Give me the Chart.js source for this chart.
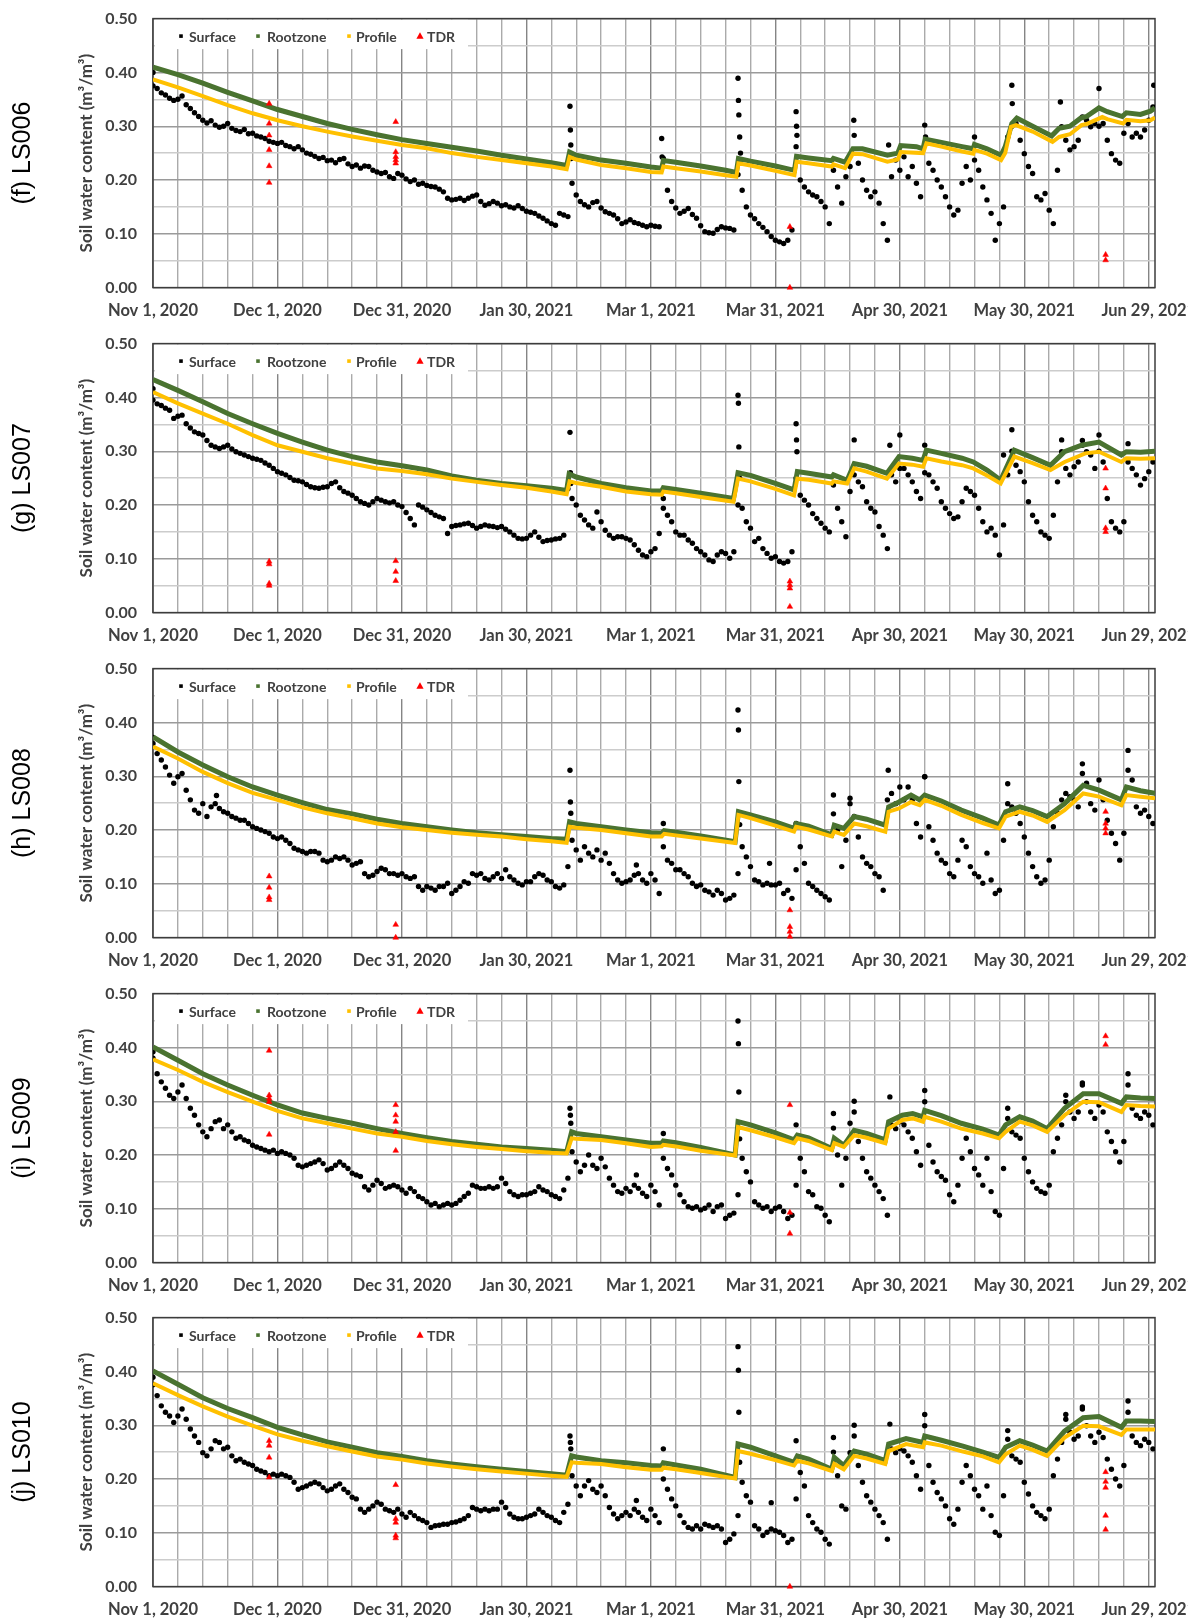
<!DOCTYPE html>
<html>
<head>
<meta charset="utf-8">
<script src="https://cdn.jsdelivr.net/npm/chart.js@4.4.1/dist/chart.umd.min.js"></script>
<style>
html,body{margin:0;padding:0;background:#ffffff;}
body{width:1196px;height:1622px;overflow:hidden;position:relative;}
.panel{position:absolute;left:0;width:1188px;height:325px;overflow:hidden;}
canvas{display:block;}
</style>
</head>
<body>
<div class="panel" style="top:0px"><canvas id="c0" width="1240" height="325"></canvas></div>
<div class="panel" style="top:325px"><canvas id="c1" width="1240" height="325"></canvas></div>
<div class="panel" style="top:650px"><canvas id="c2" width="1240" height="325"></canvas></div>
<div class="panel" style="top:975px"><canvas id="c3" width="1240" height="325"></canvas></div>
<div class="panel" style="top:1299px"><canvas id="c4" width="1240" height="325"></canvas></div>
<script>
// ---------------- DATA ----------------
const seriesNames = ['Surface', 'Rootzone', 'Profile', 'TDR'];
const panelLabels = ['(f) LS006', '(g) LS007', '(h) LS008', '(i) LS009', '(j) LS010'];
const yAxisTitle = 'Soil water content (m\u00B3/m\u00B3)';
// x axis: days since Nov 1, 2020
const tickDays = [0, 30, 60, 90, 120, 150, 180, 210, 240];
const tickLabels = ['Nov 1, 2020', 'Dec 1, 2020', 'Dec 31, 2020', 'Jan 30, 2021', 'Mar 1, 2021',
  'Mar 31, 2021', 'Apr 30, 2021', 'May 30, 2021', 'Jun 29, 2021'];
const gridDays = [0,6,12,18,24,30,36,42,48,54,60,66,72,78,84,90,96,102,108,114,120,126,132,138,
  144,150,156,162,168,174,180,186,192,198,204,210,216,222,228,234,240];
const yGrid = [0,0.05,0.1,0.15,0.2,0.25,0.3,0.35,0.4,0.45,0.5];

// Surface: daily values, day 0..241
const fSurface = [
.375,.370,.362,.358,.352,.348,.350,.356,.340,.333,
.325,.318,.311,.306,.310,.302,.298,.300,.305,.296,
.292,.290,.294,.286,.287,.282,.280,.277,.272,.270,
.268,.270,.264,.262,.258,.262,.256,.250,.248,.244,
.240,.242,.236,.237,.232,.238,.240,.230,.225,.228,
.222,.226,.225,.218,.215,.212,.214,.206,.203,.212,
.209,.202,.197,.200,.192,.194,.190,.188,.187,.183,
.178,.166,.163,.164,.166,.162,.166,.170,.172,.160,
.153,.156,.160,.157,.152,.154,.150,.148,.152,.147,
.142,.140,.138,.133,.129,.124,.119,.116,.138,.135,
.132,.194,.172,.160,.154,.150,.158,.160,.148,.141,
.138,.135,.128,.119,.122,.126,.121,.119,.116,.113,
.116,.114,.113,.240,.181,.160,.148,.138,.142,.147,
.136,.129,.115,.104,.102,.101,.108,.113,.111,.110,
.107,.210,.181,.150,.135,.128,.119,.112,.104,.095,
.088,.085,.082,.088,.107,.262,.200,.187,.178,.172,
.169,.160,.150,.119,.218,.187,.157,.206,.225,.283,
.231,.200,.181,.169,.178,.157,.119,.088,.206,.237,
.218,.243,.206,.225,.194,.169,.302,.231,.218,.200,
.187,.169,.150,.135,.144,.194,.225,.200,.237,.218,
.187,.163,.138,.088,.119,.150,.280,.300,.305,.274,
.249,.225,.212,.169,.163,.175,.144,.119,.218,.299,
.274,.256,.262,.274,.317,.311,.299,.305,.300,.305,
.274,.249,.237,.231,.287,.305,.280,.287,.280,.293,
.311,.336];
const fSurfaceExtra = [[0,.400],[100.5,.337],[100.6,.293],[100.7,.265],[100.8,.240],[122.6,.277],[122.7,.243],
  [141,.389],[141.1,.348],[141.2,.321],[141.4,.280],[141.6,.250],[155,.327],[155.1,.300],[155.2,.283],
  [168.9,.311],[177.3,.265],[186.2,.280],[198,.280],[207,.376],[207.1,.342],[218.7,.345],[228,.370],[241.2,.376]];
const fRootzone = [[0,.410],[6,.396],[12,.380],[18,.363],[24,.347],[30,.331],[36,.318],[42,.305],[48,.294],
  [54,.284],[60,.275],[66,.268],[72,.261],[78,.254],[84,.246],[90,.239],[96,.232],[99.7,.227],[100.4,.252],
  [102,.246],[108,.237],[114,.231],[120,.224],[122.6,.222],[123,.236],[126,.233],[132,.226],[138,.218],
  [140.6,.214],[141.1,.240],[144,.235],[150,.226],[154.6,.218],[155.1,.244],[158,.241],[163.6,.236],
  [164,.240],[166.8,.233],[168.7,.258],[171,.258],[177,.246],[179.5,.250],[180.2,.264],[184,.262],
  [185.6,.258],[186.1,.276],[190,.270],[195,.262],[197.7,.258],[198,.266],[201,.258],[204.4,.246],
  [205.4,.262],[207,.305],[208.2,.315],[212,.300],[216.6,.282],[218.4,.296],[221,.300],[223.6,.315],
  [225,.318],[228,.334],[230,.327],[233.6,.318],[234.6,.325],[238,.322],[240.4,.328],[241.5,.334]];
const fProfile = [[0,.387],[6,.372],[12,.356],[18,.339],[24,.324],[30,.311],[36,.300],[42,.290],[48,.281],
  [54,.273],[60,.265],[66,.259],[72,.250],[78,.243],[84,.237],[90,.231],[96,.225],[99.7,.220],[100.4,.243],
  [102,.238],[108,.228],[114,.222],[120,.215],[122.6,.214],[123,.225],[126,.222],[132,.216],[138,.209],
  [140.6,.206],[141.1,.231],[144,.227],[150,.217],[154.6,.209],[155.1,.234],[158,.231],[163.6,.225],
  [164,.229],[166.8,.222],[168.7,.249],[171,.248],[177,.234],[179.5,.238],[180.2,.252],[185.6,.250],
  [186.4,.268],[190,.262],[195,.253],[197.7,.249],[198,.256],[201,.249],[204.4,.237],[205.4,.250],
  [206.8,.299],[208,.302],[212,.290],[216.8,.271],[218.4,.280],[221,.285],[223.8,.302],[225,.304],
  [228.8,.317],[230,.313],[233.8,.305],[234.6,.312],[238,.309],[240.4,.311],[241.5,.316]];
const fTDR = [[28,.342],[28,.305],[28,.283],[28,.256],[28,.226],[28,.195],[58.5,.308],[58.5,.252],[58.5,.243],
  [58.5,.237],[58.5,.231],[153.5,0],[153.5,.113],[229.6,.061],[229.6,.051]];

const gSurface = [
.395,.388,.385,.380,.376,.361,.365,.367,.351,.343,
.336,.333,.330,.320,.311,.308,.305,.308,.311,.304,
.299,.296,.293,.290,.287,.285,.283,.278,.274,.268,
.262,.259,.256,.251,.246,.245,.243,.238,.234,.232,
.231,.233,.234,.240,.243,.232,.225,.222,.218,.212,
.206,.203,.200,.206,.212,.209,.206,.204,.206,.200,
.197,.186,.175,.163,.200,.196,.191,.186,.181,.178,
.175,.147,.160,.162,.163,.165,.166,.162,.157,.160,
.163,.161,.160,.158,.160,.155,.150,.144,.138,.137,
.138,.144,.150,.140,.132,.134,.135,.137,.138,.144,
.230,.212,.200,.181,.172,.163,.157,.187,.169,.153,
.144,.138,.141,.141,.138,.135,.126,.116,.107,.104,
.113,.119,.147,.194,.181,.169,.150,.144,.144,.135,
.129,.119,.113,.107,.098,.095,.107,.113,.110,.101,
.113,.200,.194,.169,.157,.132,.138,.119,.110,.101,
.104,.095,.092,.095,.113,.250,.218,.209,.200,.184,
.175,.166,.157,.150,.237,.194,.169,.141,.225,.256,
.243,.234,.206,.194,.187,.160,.144,.119,.256,.243,
.268,.268,.256,.243,.225,.212,.260,.256,.243,.231,
.206,.194,.184,.175,.178,.206,.231,.225,.218,.194,
.169,.150,.157,.144,.107,.163,.256,.300,.274,.262,
.243,.206,.181,.169,.150,.144,.138,.181,.243,.299,
.268,.256,.271,.280,.311,.299,.293,.268,.300,.280,
.212,.169,.157,.150,.169,.280,.268,.256,.237,.249,
.262,.280];
const gSurfaceExtra = [[0,.416],[100.5,.335],[100.6,.260],[100.7,.240],[123,.212],[141,.404],[141.1,.389],
  [141.2,.308],[141.4,.250],[155,.351],[155.1,.321],[155.2,.299],[169,.321],[177.6,.311],[180,.330],
  [186,.311],[205,.293],[207,.340],[219,.321],[224,.320],[228,.330],[235,.314]];
const gRootzone = [[0,.433],[6,.413],[12,.392],[18,.370],[24,.351],[30,.333],[36,.317],[42,.302],[48,.290],
  [54,.280],[60,.273],[66,.265],[72,.254],[78,.246],[84,.240],[90,.236],[96,.231],[99.7,.227],[100.3,.258],
  [102,.252],[108,.240],[114,.232],[120,.226],[122.6,.226],[123,.232],[126,.229],[132,.222],[139.9,.212],
  [141,.260],[144,.255],[150,.240],[154.5,.228],[155.3,.262],[158,.259],[163.6,.252],[164,.256],
  [167.3,.246],[169,.277],[172,.272],[176.9,.259],[179.8,.290],[183,.287],[185.6,.283],[186.4,.302],
  [190,.296],[195,.287],[197.7,.280],[201,.265],[204.3,.246],[207.6,.302],[212,.288],[216.3,.274],
  [219.7,.299],[223.8,.311],[228,.317],[233.4,.293],[234.6,.299],[238,.298],[241.5,.300]];
const gProfile = [[0,.410],[6,.389],[12,.370],[18,.351],[24,.330],[30,.311],[36,.299],[42,.287],[48,.277],
  [54,.268],[60,.263],[66,.257],[72,.249],[78,.243],[84,.237],[90,.232],[96,.225],[99.7,.220],[100.4,.244],
  [102,.241],[108,.234],[114,.225],[120,.220],[122.6,.219],[123,.225],[126,.222],[132,.215],[139.9,.206],
  [141,.249],[144,.244],[150,.230],[154.5,.218],[155.3,.249],[158,.247],[163.6,.240],[164,.244],
  [167.3,.240],[169,.268],[172,.262],[176.9,.249],[179.8,.277],[183,.275],[185.6,.271],[186.4,.287],
  [190,.281],[195,.274],[197.7,.268],[201,.255],[204.3,.240],[207.6,.290],[212,.278],[216.3,.265],
  [219.7,.280],[224.7,.296],[228,.299],[233.4,.280],[234.6,.287],[238,.286],[241.5,.287]];
const gTDR = [[28,.095],[28,.090],[28,.054],[28,.050],[58.5,.096],[58.5,.076],[58.5,.059],[153.5,.058],
  [153.5,.051],[153.5,.045],[153.5,.011],[229.6,.268],[229.6,.231],[229.6,.157],[229.6,.150]];

const hSurface = [
.361,.342,.330,.317,.302,.287,.299,.305,.274,.256,
.237,.231,.249,.225,.243,.249,.240,.234,.231,.225,
.222,.218,.218,.212,.206,.203,.200,.197,.194,.187,
.184,.187,.181,.175,.166,.163,.160,.157,.160,.160,
.157,.144,.141,.144,.150,.147,.150,.144,.135,.138,
.141,.119,.113,.116,.123,.129,.126,.119,.119,.116,
.119,.113,.110,.113,.095,.088,.095,.092,.088,.095,
.095,.101,.082,.088,.095,.104,.101,.119,.116,.119,
.110,.107,.113,.119,.110,.126,.113,.107,.101,.098,
.104,.104,.113,.119,.116,.107,.104,.095,.092,.098,
.132,.181,.163,.144,.169,.157,.150,.163,.144,.157,
.138,.119,.107,.101,.104,.107,.116,.119,.107,.101,
.119,.107,.082,.169,.144,.138,.126,.126,.119,.113,
.101,.095,.098,.088,.085,.079,.088,.082,.070,.073,
.079,.119,.169,.150,.132,.107,.104,.098,.101,.098,
.098,.101,.082,.088,.073,.126,.169,.138,.101,.095,
.088,.082,.076,.070,.265,.200,.132,.181,.249,.225,
.187,.150,.138,.132,.119,.113,.088,.256,.268,.249,
.280,.256,.280,.256,.212,.187,.299,.206,.181,.157,
.144,.138,.119,.113,.144,.181,.169,.132,.119,.113,
.101,.157,.107,.082,.088,.181,.249,.243,.231,.212,
.187,.157,.132,.113,.101,.107,.144,.206,.231,.256,
.268,.262,.256,.243,.305,.287,.249,.237,.293,.256,
.218,.194,.175,.144,.194,.311,.293,.243,.231,.237,
.225,.212];
const hSurfaceExtra = [[0,.372],[15.3,.264],[100.5,.311],[100.6,.252],[100.7,.231],[116.5,.135],[123,.212],
  [141,.423],[141.1,.386],[141.2,.290],[141.4,.210],[148.6,.138],[155,.212],[164,.230],[168,.259],
  [177.2,.311],[186,.299],[206,.286],[224,.323],[235,.348]];
const hRootzone = [[0,.373],[6,.345],[12,.321],[18,.299],[24,.280],[30,.265],[36,.251],[42,.238],[48,.230],
  [54,.220],[60,.212],[66,.206],[72,.200],[78,.195],[84,.191],[90,.188],[96,.184],[99.7,.183],[100.4,.215],
  [102,.212],[108,.206],[114,.200],[120,.195],[122.6,.194],[123.2,.199],[126,.196],[132,.189],[140.3,.178],
  [141.1,.234],[144,.228],[150,.215],[154.5,.203],[155,.212],[158,.207],[163.6,.191],[164.2,.209],
  [166.5,.203],[169,.225],[172,.220],[176.5,.209],[177.3,.243],[179.8,.252],[182.7,.265],[184.8,.256],
  [186,.265],[190,.254],[194.8,.237],[200,.222],[203.9,.209],[205.5,.234],[208.9,.243],[212,.236],
  [215.5,.225],[219.7,.249],[224.2,.283],[228,.274],[233.4,.256],[234.6,.280],[238,.273],[241.5,.268]];
const hProfile = [[0,.355],[6,.333],[12,.308],[18,.287],[24,.269],[30,.256],[36,.242],[42,.231],[48,.222],
  [54,.212],[60,.205],[66,.200],[72,.195],[78,.191],[84,.188],[90,.183],[96,.179],[99.7,.176],[100.4,.206],
  [102,.204],[108,.200],[114,.194],[120,.188],[122.6,.188],[123.2,.193],[126,.190],[132,.184],[140.3,.176],
  [141.1,.228],[144,.222],[150,.208],[154.5,.197],[155,.206],[158,.201],[163.6,.188],[164.2,.197],
  [166.5,.191],[169,.212],[172,.207],[176.5,.197],[177.3,.234],[179.8,.240],[182.7,.252],[184.8,.246],
  [186,.256],[190,.245],[194.8,.228],[200,.213],[203.9,.203],[205.5,.225],[208.9,.234],[212,.227],
  [215.5,.215],[219.7,.237],[224.2,.268],[228,.262],[233.4,.246],[234.6,.265],[238,.262],[241.5,.259]];
const hTDR = [[28,.114],[28,.093],[28,.075],[28,.070],[58.5,.024],[58.5,0],[153.5,.051],[153.5,.020],
  [153.5,.011],[153.5,.002],[229.6,.234],[229.6,.212],[229.6,.203],[229.6,.194]];

const iSurface = [
.380,.351,.336,.324,.311,.305,.317,.330,.305,.287,
.274,.256,.243,.234,.249,.262,.265,.249,.256,.243,
.231,.234,.228,.225,.218,.215,.212,.209,.206,.209,
.203,.206,.203,.200,.194,.181,.178,.181,.184,.187,
.191,.184,.172,.175,.181,.187,.181,.175,.166,.163,
.160,.141,.135,.144,.153,.147,.138,.141,.144,.141,
.135,.129,.138,.132,.123,.119,.113,.107,.110,.104,
.107,.110,.107,.110,.116,.123,.129,.144,.141,.138,
.138,.141,.138,.141,.157,.147,.132,.126,.123,.126,
.126,.129,.132,.141,.135,.132,.126,.123,.119,.135,
.157,.206,.187,.169,.181,.200,.181,.175,.194,.178,
.157,.144,.132,.129,.138,.132,.144,.138,.129,.123,
.144,.132,.107,.194,.175,.163,.144,.126,.113,.104,
.101,.104,.098,.101,.107,.095,.104,.107,.082,.088,
.092,.126,.194,.169,.150,.113,.107,.101,.104,.095,
.101,.104,.095,.082,.088,.144,.194,.169,.132,.126,
.104,.101,.088,.076,.277,.200,.144,.194,.259,.280,
.225,.194,.169,.157,.144,.132,.119,.088,.256,.249,
.262,.256,.243,.231,.206,.181,.299,.218,.187,.169,
.160,.153,.126,.113,.144,.194,.231,.206,.175,.163,
.144,.194,.132,.095,.088,.175,.268,.243,.237,.231,
.194,.169,.150,.138,.132,.129,.144,.206,.231,.256,
.299,.280,.268,.280,.330,.299,.280,.268,.293,.280,
.243,.225,.206,.187,.225,.330,.287,.274,.268,.280,
.274,.256];
const iSurfaceExtra = [[0,.392],[100.5,.287],[100.6,.274],[100.7,.259],[116.5,.163],[123,.240],[141,.449],
  [141.1,.407],[141.2,.317],[141.4,.230],[155,.256],[164,.250],[169,.300],[177.6,.308],[186,.320],
  [206,.287],[220,.311],[224,.334],[235,.351]];
const iRootzone = [[0,.401],[6,.376],[12,.351],[18,.330],[24,.311],[30,.293],[36,.278],[42,.268],[48,.259],
  [54,.249],[60,.240],[66,.232],[72,.225],[78,.220],[84,.215],[90,.212],[96,.209],[99.7,.206],[100.9,.243],
  [102,.240],[108,.234],[114,.228],[120,.222],[122.6,.222],[123,.226],[126,.223],[132,.214],[140.3,.200],
  [141,.262],[144,.256],[150,.241],[154.5,.228],[155.3,.237],[158,.232],[163.6,.212],[164.2,.231],
  [166.5,.218],[169,.246],[172,.240],[176.5,.228],[177.3,.262],[180.6,.274],[183.1,.277],[185.6,.271],
  [186,.283],[190,.273],[194.8,.259],[200,.248],[203.9,.237],[205.5,.256],[208.9,.271],[212,.263],
  [215.5,.249],[219.7,.287],[224.2,.314],[228,.314],[233.4,.296],[234.6,.308],[238,.306],[241.5,.305]];
const iProfile = [[0,.378],[6,.358],[12,.336],[18,.317],[24,.299],[30,.282],[36,.268],[42,.259],[48,.249],
  [54,.240],[60,.234],[66,.226],[72,.220],[78,.215],[84,.211],[90,.207],[96,.204],[99.7,.203],[100.9,.231],
  [102,.230],[108,.228],[114,.222],[120,.215],[122.6,.216],[123,.219],[126,.216],[132,.208],[140.3,.199],
  [141,.252],[144,.246],[150,.233],[154.5,.222],[155.3,.231],[158,.226],[163.6,.209],[164.2,.222],
  [166.5,.215],[169,.237],[172,.232],[176.5,.222],[177.3,.249],[180.6,.265],[183.1,.268],[185.6,.262],
  [186,.271],[190,.262],[194.8,.249],[200,.240],[203.9,.231],[205.5,.243],[208.9,.262],[212,.255],
  [215.5,.243],[219.7,.274],[224.2,.299],[228,.298],[233.4,.280],[234.6,.293],[238,.291],[241.5,.290]];
const iTDR = [[28,.394],[28,.311],[28,.305],[28,.299],[28,.238],[58.5,.293],[58.5,.274],[58.5,.262],
  [58.5,.243],[58.5,.208],[153.5,.293],[153.5,.093],[153.5,.054],[229.6,.421],[229.6,.405]];

const jSurface = [
.375,.355,.336,.324,.317,.305,.317,.330,.311,.293,
.280,.268,.249,.243,.256,.271,.268,.256,.259,.243,
.234,.237,.231,.228,.225,.218,.215,.212,.206,.209,
.206,.209,.206,.203,.194,.181,.184,.187,.191,.194,
.191,.184,.178,.181,.187,.191,.181,.175,.166,.163,
.144,.138,.144,.150,.157,.153,.144,.141,.138,.144,
.135,.129,.138,.132,.126,.123,.119,.110,.113,.114,
.116,.116,.119,.120,.123,.126,.132,.147,.144,.141,
.144,.141,.144,.144,.157,.147,.135,.129,.126,.126,
.129,.132,.135,.144,.138,.132,.129,.123,.119,.138,
.153,.206,.187,.169,.187,.197,.181,.175,.187,.169,
.147,.135,.126,.132,.138,.132,.144,.138,.129,.123,
.144,.132,.119,.200,.181,.163,.150,.132,.119,.110,
.107,.113,.107,.116,.113,.110,.113,.107,.082,.088,
.098,.132,.194,.169,.157,.113,.107,.095,.101,.107,
.104,.101,.095,.082,.088,.163,.212,.187,.132,.119,
.107,.101,.088,.079,.277,.206,.150,.144,.249,.280,
.225,.194,.169,.157,.144,.132,.119,.088,.256,.249,
.256,.252,.243,.231,.206,.181,.299,.225,.194,.175,
.163,.150,.126,.116,.144,.194,.225,.206,.181,.169,
.144,.187,.132,.101,.095,.169,.274,.243,.237,.231,
.194,.172,.150,.138,.132,.126,.144,.206,.237,.268,
.311,.287,.274,.280,.330,.299,.280,.268,.287,.277,
.237,.218,.200,.187,.225,.324,.280,.268,.262,.274,
.268,.256];
const jSurfaceExtra = [[0,.389],[100.5,.280],[100.6,.268],[100.7,.256],[116.5,.160],[123,.256],[141,.446],
  [141.1,.402],[141.2,.324],[141.4,.231],[149,.156],[155,.271],[164,.250],[169,.300],[177.6,.302],
  [186,.320],[206,.290],[220,.320],[224,.334],[235,.345]];
const jRootzone = [[0,.401],[6,.376],[12,.351],[18,.331],[24,.314],[30,.296],[36,.282],[42,.269],[48,.259],
  [54,.249],[60,.242],[66,.234],[72,.228],[78,.223],[84,.218],[90,.214],[96,.210],[99.7,.207],[100.9,.243],
  [102,.241],[108,.234],[114,.230],[120,.225],[122.6,.224],[123,.230],[126,.226],[132,.218],[140.3,.203],
  [141,.265],[144,.259],[150,.243],[154.5,.231],[155.3,.243],[158,.237],[163.6,.218],[164.2,.240],
  [166.5,.225],[169,.252],[172,.246],[176.5,.234],[177.3,.265],[181.5,.275],[185.6,.268],[186,.280],
  [190,.272],[195.2,.261],[200,.250],[203.9,.240],[205.5,.259],[208.9,.271],[212,.263],[215.5,.252],
  [219.7,.289],[224.2,.314],[228,.316],[233.4,.296],[234.6,.308],[238,.308],[241.5,.307]];
const jProfile = [[0,.378],[6,.356],[12,.335],[18,.316],[24,.299],[30,.283],[36,.271],[42,.261],[48,.251],
  [54,.242],[60,.236],[66,.229],[72,.223],[78,.218],[84,.214],[90,.210],[96,.206],[99.7,.204],[100.9,.231],
  [102,.230],[108,.228],[114,.222],[120,.217],[122.6,.217],[123,.221],[126,.218],[132,.211],[140.3,.201],
  [141,.252],[144,.247],[150,.235],[154.5,.225],[155.3,.234],[158,.229],[163.6,.215],[164.2,.228],
  [166.5,.218],[169,.243],[172,.238],[176.5,.228],[177.3,.252],[181.5,.265],[185.6,.259],[186,.268],
  [190,.262],[195.2,.251],[200,.242],[203.9,.231],[205.5,.246],[208.9,.262],[212,.254],[215.5,.243],
  [219.7,.277],[224.2,.299],[228,.298],[233.4,.282],[234.6,.292],[238,.292],[241.5,.292]];
const jTDR = [[28,.271],[28,.262],[28,.240],[28,.203],[58.5,.189],[58.5,.126],[58.5,.119],[58.5,.095],
  [58.5,.090],[153.5,0],[229.6,.213],[229.6,.195],[229.6,.184],[229.6,.132],[229.6,.106]];

// ---------------- STYLE ----------------
const COL_SURFACE = '#000000';
const COL_ROOT = '#4a7330';
const COL_PROFILE = '#ffc000';
const COL_TDR = '#ff0000';
const TEXT_COL = '#404040';
const FONT = "Lato, 'Open Sans', sans-serif";

const panels = [
  {label: panelLabels[0], s: fSurface, sx: fSurfaceExtra, r: fRootzone, p: fProfile, t: fTDR},
  {label: panelLabels[1], s: gSurface, sx: gSurfaceExtra, r: gRootzone, p: gProfile, t: gTDR},
  {label: panelLabels[2], s: hSurface, sx: hSurfaceExtra, r: hRootzone, p: hProfile, t: hTDR},
  {label: panelLabels[3], s: iSurface, sx: iSurfaceExtra, r: iRootzone, p: iProfile, t: iTDR},
  {label: panelLabels[4], s: jSurface, sx: jSurfaceExtra, r: jRootzone, p: jProfile, t: jTDR}
];

const pairs = arr => arr.map(([x, y]) => ({x, y}));

const legendOffsets = [[28, 36], [105, 114], [196, 203], [267, 274]];
const insideLegend = {
  id: 'insideLegend',
  beforeDatasetsDraw(chart) {
    const {ctx, chartArea: a} = chart;
    ctx.save();
    ctx.fillStyle = '#ffffff';
    ctx.fillRect(a.left + 2, a.top + 1, 313, 29.5);
    ctx.strokeStyle = '#3c3c3c';
    ctx.lineWidth = 1.5;
    ctx.strokeRect(a.left, a.top, a.right - a.left, a.bottom - a.top);
    const cy = a.top + 17.5;
    ctx.font = 'bold 14px ' + FONT;
    ctx.textBaseline = 'middle';
    ctx.textAlign = 'left';
    chart.data.datasets.forEach((ds, i) => {
      const [mx, tx] = legendOffsets[i];
      const x = a.left + mx;
      ctx.fillStyle = ds.legendColor;
      if (ds.pointStyle === 'triangle') {
        ctx.beginPath();
        ctx.moveTo(x, cy - 3.8);
        ctx.lineTo(x + 3.6, cy + 2.6);
        ctx.lineTo(x - 3.6, cy + 2.6);
        ctx.closePath();
        ctx.fill();
      } else {
        ctx.fillRect(x - 1.8, cy - 1.8, 3.6, 3.6);
      }
      ctx.fillStyle = TEXT_COL;
      ctx.fillText(ds.label, a.left + tx, cy + 1);
    });
    ctx.restore();
  }
};

function build() {
  panels.forEach((pn, k) => {
    const surfaceData = pn.s.map((v, i) => ({x: i, y: v})).concat(pairs(pn.sx));
    new Chart(document.getElementById('c' + k), {
      type: 'scatter',
      data: {
        datasets: [
          {label: seriesNames[0], data: surfaceData, pointStyle: 'circle', pointRadius: 2.7, pointHoverRadius: 2.7,
            backgroundColor: COL_SURFACE, borderColor: COL_SURFACE, borderWidth: 0, order: 4, legendColor: COL_SURFACE},
          {label: seriesNames[1], data: pairs(pn.r), showLine: true, borderColor: COL_ROOT, backgroundColor: COL_ROOT,
            borderWidth: 5, pointRadius: 0, pointHoverRadius: 0, tension: 0, order: 3, legendColor: COL_ROOT},
          {label: seriesNames[2], data: pairs(pn.p), showLine: true, borderColor: COL_PROFILE, backgroundColor: COL_PROFILE,
            borderWidth: 4, pointRadius: 0, pointHoverRadius: 0, tension: 0, order: 2, legendColor: COL_PROFILE},
          {label: seriesNames[3], data: pairs(pn.t), pointStyle: 'triangle', pointRadius: 3.3, pointHoverRadius: 3.3,
            backgroundColor: COL_TDR, borderColor: COL_TDR, borderWidth: 0.5, order: 1, clip: false, legendColor: COL_TDR}
        ]
      },
      options: {
        responsive: false,
        animation: false,
        events: [],
        layout: {padding: {top: 18.6, right: 85, bottom: 0, left: 0}},
        plugins: {
          legend: {display: false},
          tooltip: {enabled: false},
          title: {
            display: true, position: 'left', fullSize: false, text: pn.label, color: '#000000',
            font: {family: "'Liberation Sans', Arial, sans-serif", size: 25, weight: 'normal', lineHeight: 1.2},
            padding: {top: 8, bottom: 0}
          }
        },
        scales: {
          x: {
            type: 'linear', min: 0, max: 241.5,
            afterBuildTicks: s => { s.ticks = gridDays.map(v => ({value: v})); },
            afterFit: s => { s.height = 37.4; },
            border: {display: false},
            grid: {
              drawTicks: false, lineWidth: 1.4,
              color: c => (c.tick && tickDays.indexOf(c.tick.value) >= 0) ? '#858585' : '#aaaaaa'
            },
            ticks: {
              autoSkip: false, maxRotation: 0, minRotation: 0, padding: 13, color: TEXT_COL,
              font: {family: FONT, size: 16.5, weight: 'bold', lineHeight: 1.2},
              callback: v => { const i = tickDays.indexOf(v); return i >= 0 ? tickLabels[i] : ''; }
            }
          },
          y: {
            type: 'linear', min: 0, max: 0.5,
            afterBuildTicks: s => { s.ticks = yGrid.map(v => ({value: v})); },
            afterFit: s => { s.width = 115; s.paddingTop = 10; s.paddingBottom = 10; },
            border: {display: false},
            grid: {
              drawTicks: false, lineWidth: 1.4,
              color: c => (c.tick && Math.round(c.tick.value * 100) % 10 === 0) ? '#9a9a9a' : '#cccccc'
            },
            ticks: {
              padding: 16, color: TEXT_COL,
              font: {family: FONT, size: 16, weight: 'bold', lineHeight: 1.2},
              callback: v => (Math.round(v * 100) % 10 === 0) ? v.toFixed(2) : ''
            },
            title: {
              display: true, text: yAxisTitle, color: TEXT_COL,
              font: {family: FONT, size: 17, weight: 'bold', lineHeight: 1.2},
              padding: {top: 38.8, bottom: 0}
            }
          }
        }
      },
      plugins: [insideLegend]
    });
  });
}

const fontLoads = document.fonts ? Promise.all([
  document.fonts.load("bold 16px Lato"),
  document.fonts.load("25px 'Liberation Sans'")
]) : Promise.resolve();
fontLoads.then(build, build);
</script>
</body>
</html>
